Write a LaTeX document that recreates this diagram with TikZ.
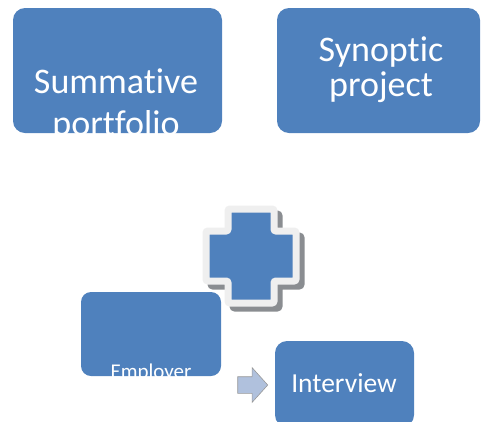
\documentclass[tikz,border=0pt]{standalone}
\usepackage{fontspec}
\setmainfont{Carlito}[Ligatures=NoCommon]
\usetikzlibrary{shapes.arrows}

\begin{document}
\begin{tikzpicture}[x=1pt,y=-1pt]
\definecolor{tileblue}{HTML}{4F81BD}
\definecolor{crossedge}{HTML}{EFEFEF}
\definecolor{crossshade}{HTML}{8A8D91}
\definecolor{arrowblue}{HTML}{B0C1DD}
\tikzset{
	tile/.style={fill=tileblue,rounded corners=12pt,inner sep=0pt},
	tiletext/.style={text=white,anchor=base,align=center,inner sep=0pt}
}

\useasboundingbox (0,0) rectangle (481,421);
\clip (0,0) rectangle (481,421);

% Kaesten oben (base = letzte Zeile)
\node[tile,minimum width=209pt,minimum height=125pt] (summ) at (117.5,70.5) {};
\begin{scope}
\clip[rounded corners=12pt] (summ.south west) rectangle (summ.north east);
\node[tiletext,font=\fontsize{36}{42}\selectfont] (summtext) at (116,135) {Summative\\portfolio};
\end{scope}

\node[tile,minimum width=203pt,minimum height=125pt] (synop) at (378.5,70.5) {};
\node[tiletext,font=\fontsize{36}{35}\selectfont] (synoptext) at (381,96) {Synoptic\\project};

% Kreuz
\draw[fill=crossshade,draw=crossshade,line width=7pt,rounded corners=2pt,shift={(5,5)}]
	(228,209) -- (274,209) -- (274,231) -- (296,231) -- (296,281) -- (274,281)
	-- (274,303) -- (228,303) -- (228,281) -- (206,281) -- (206,231) -- (228,231) -- cycle;
\draw[fill=tileblue,draw=crossedge,line width=7pt,rounded corners=2pt]
	(228,209) -- (274,209) -- (274,231) -- (296,231) -- (296,281) -- (274,281)
	-- (274,303) -- (228,303) -- (228,281) -- (206,281) -- (206,231) -- (228,231) -- cycle;

% Kaesten unten
\node[tile,rounded corners=10pt,minimum width=140pt,minimum height=84pt] (empl) at (151,334) {};
\begin{scope}
\clip[rounded corners=10pt] (empl.south west) rectangle (empl.north east);
\node[tiletext,font=\fontsize{21}{25}\selectfont] (empltext) at (151,378) {Employer};
\end{scope}

\node[tile,minimum width=139pt,minimum height=86pt] (intv) at (344.5,384) {};
\node[tiletext,font=\fontsize{27.5}{32}\selectfont] (intvtext) at (344,392) {Interview};

% Pfeil
\node[single arrow,fill=arrowblue,draw=gray!80,line width=0.6pt,
	minimum height=30pt,single arrow head extend=9pt,single arrow tip angle=96,
	inner xsep=0pt,inner ysep=8pt] (arr) at (249,385) {};

\end{tikzpicture}
\end{document}
